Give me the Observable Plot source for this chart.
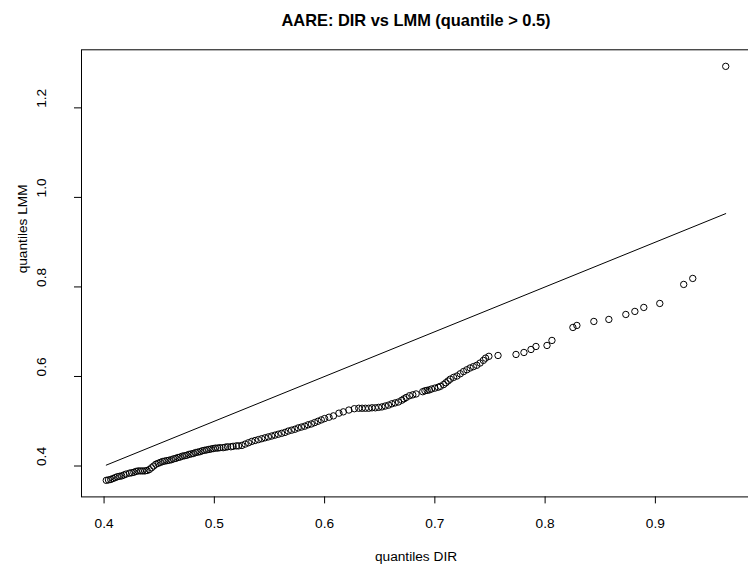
<!DOCTYPE html>
<html>
<head>
<meta charset="utf-8">
<script src="https://cdn.jsdelivr.net/npm/d3@7"></script>
<script src="https://cdn.jsdelivr.net/npm/@observablehq/plot@0.6"></script>
<style>
  html, body { margin: 0; padding: 0; background: white; overflow: hidden; }
</style>
</head>
<body>
<div id="chart"></div>
<script>
const titleText = "AARE: DIR vs LMM (quantile > 0.5)";
const xLabel = "quantiles DIR";
const yLabel = "quantiles LMM";
const xTicks = [0.4, 0.5, 0.6, 0.7, 0.8, 0.9];
const yTicks = [0.4, 0.6, 0.8, 1.0, 1.2];

// quantiles DIR (x) and quantiles LMM (y), sorted pairs
const quantDIR = [
  0.402,0.404,0.406,0.408,0.410,0.412,0.414,0.416,0.418,0.420,0.423,0.425,0.427,0.429,0.431,0.433,0.435,0.437,
  0.439,0.441,0.443,0.445,0.447,0.449,0.451,0.453,0.455,
  0.457,0.459,0.461,0.463,0.465,0.467,0.469,0.471,0.473,0.475,0.477,0.479,0.481,0.483,0.485,0.487,0.489,0.491,0.493,0.495,0.497,0.499,
  0.501,0.503,0.505,0.508,0.510,0.512,0.515,0.517,0.520,0.522,0.525,
  0.528,0.531,0.534,0.537,0.540,0.543,0.546,0.549,0.552,0.555,0.558,0.561,0.564,
  0.567,0.570,0.573,0.576,0.579,0.582,0.585,0.588,0.591,0.594,0.597,0.600,0.604,0.608,
  0.613,0.617,0.622,0.627,0.631,0.634,0.637,0.640,0.643,0.646,0.649,0.652,0.655,0.658,
  0.661,0.664,0.667,0.670,0.672,0.674,0.677,0.680,0.683,0.689,0.691,0.693,0.695,0.697,0.700,0.703,0.705,
  0.708,0.710,0.712,0.714,0.717,0.720,0.723,0.726,0.729,0.732,0.735,0.738,0.741,0.744,0.746,0.749,
  0.7573,0.7736,0.7808,0.7872,0.7917,0.8017,0.8062,0.8252,0.8288,0.8442,0.8578,0.8732,0.8814,0.8895,0.9040,0.9257,0.9339,0.9638
];
const quantLMM = [
  0.368,0.369,0.370,0.372,0.374,0.376,0.377,0.378,0.380,0.382,0.384,0.385,0.386,0.388,0.389,0.389,0.389,0.389,
  0.390,0.392,0.396,0.400,0.404,0.406,0.408,0.410,0.411,
  0.412,0.413,0.414,0.416,0.417,0.419,0.420,0.422,0.423,0.424,0.426,0.427,0.428,0.430,0.431,0.432,0.434,0.435,0.436,0.437,0.438,0.439,
  0.440,0.440,0.441,0.441,0.442,0.443,0.443,0.444,0.445,0.445,0.446,
  0.449,0.452,0.455,0.457,0.459,0.461,0.463,0.465,0.467,0.469,0.471,0.473,0.475,
  0.478,0.480,0.482,0.485,0.487,0.489,0.492,0.494,0.497,0.500,0.503,0.506,0.509,0.512,
  0.518,0.521,0.525,0.528,0.529,0.529,0.529,0.529,0.530,0.530,0.531,0.532,0.534,0.536,
  0.539,0.541,0.543,0.547,0.550,0.553,0.557,0.559,0.561,0.566,0.568,0.569,0.570,0.572,0.574,0.576,0.578,
  0.582,0.586,0.590,0.594,0.598,0.601,0.606,0.611,0.615,0.619,0.622,0.625,0.630,0.636,0.641,0.645,
  0.6469,0.6492,0.6536,0.6603,0.6670,0.6693,0.6805,0.7095,0.7140,0.7229,0.7274,0.7385,0.7453,0.7542,0.7631,0.8056,0.8190,1.2927
];

const pts = quantDIR.map((x, i) => ({x, y: quantLMM[i]}));
const pad = ([a, b]) => [a - 0.04 * (b - a), b + 0.04 * (b - a)];
const xDom = pad(d3.extent(quantDIR));
const yDom = pad(d3.extent(quantLMM));
const lineEnds = d3.extent(quantDIR);

const font = "Liberation Sans, Arial, Helvetica, sans-serif";
const fs = 13.7;

const chart = Plot.plot({
  width: 748,
  height: 570,
  marginLeft: 81,
  marginRight: -2,
  marginTop: 49.3,
  marginBottom: 73.6,
  style: {fontFamily: font, fontSize: fs + "px", background: "white", color: "black"},
  x: {domain: xDom, axis: null},
  y: {domain: yDom, axis: null},
  marks: [
    Plot.frame({stroke: "black", strokeWidth: 1}),
    Plot.axisX({ticks: xTicks, tickSize: 7, tickPadding: 14, tickFormat: d => d.toFixed(1), fontSize: fs, stroke: "black", label: null}),
    Plot.axisY({ticks: yTicks, tickSize: 7, tickFormat: () => "", label: null, stroke: "black"}),
    Plot.text(yTicks, {y: d => d, text: d => d.toFixed(1), frameAnchor: "left", rotate: -90, dx: -40, fontSize: fs, fill: "black"}),
    Plot.line(lineEnds, {x: d => d, y: d => d, stroke: "black", strokeWidth: 1}),
    Plot.dot(pts, {x: "x", y: "y", r: 3.2, stroke: "black", strokeWidth: 1, fill: "none"}),
    Plot.text([titleText], {frameAnchor: "top", dy: -35, fontWeight: "bold", fontSize: 16.4, fill: "black"}),
    Plot.text([xLabel], {frameAnchor: "bottom", dy: 64, fontSize: fs, fill: "black"}),
    Plot.text([yLabel], {frameAnchor: "left", rotate: -90, dx: -59, fontSize: fs, fill: "black"})
  ]
});
document.getElementById("chart").appendChild(chart);
</script>
</body>
</html>
